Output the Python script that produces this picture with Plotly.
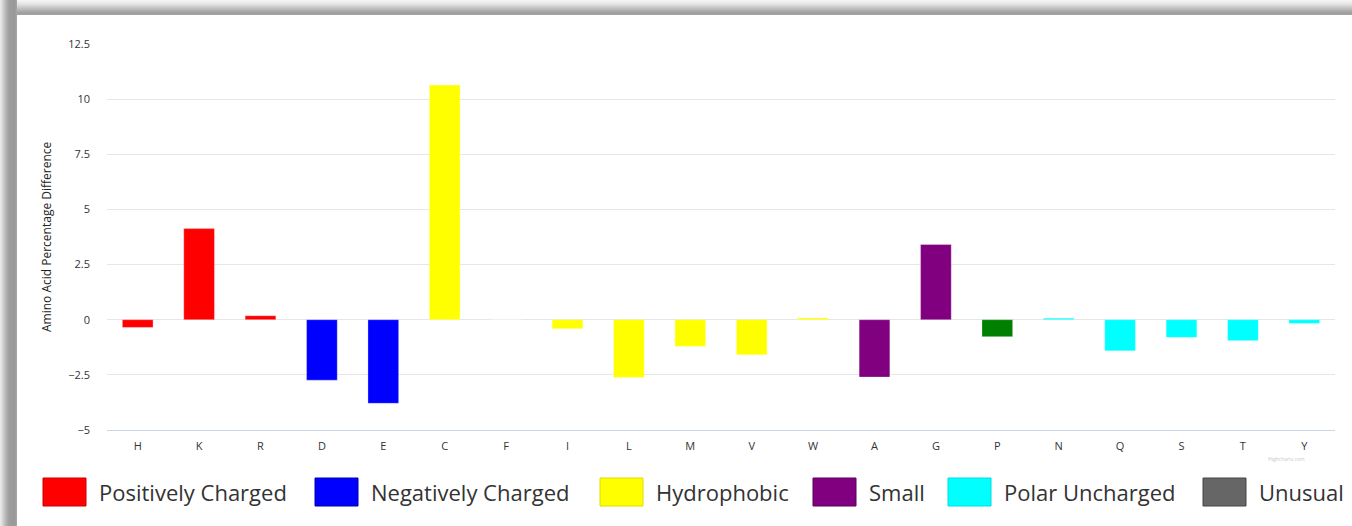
import plotly.graph_objects as go

# ---- data ----
categories = ["H", "K", "R", "D", "E", "C", "F", "I", "L", "M",
              "V", "W", "A", "G", "P", "N", "Q", "S", "T", "Y"]
values = [-0.35, 4.13, 0.18, -2.74, -3.79, 10.64, 0.0, -0.41, -2.62, -1.21,
          -1.59, 0.08, -2.60, 3.41, -0.77, 0.07, -1.41, -0.80, -0.95, -0.17]
groups = (["Positively Charged"] * 3 + ["Negatively Charged"] * 2 +
          ["Hydrophobic"] * 7 + ["Small"] * 2 + ["Proline"] +
          ["Polar Uncharged"] * 5)

group_colors = {
    "Positively Charged": "#FF0000",
    "Negatively Charged": "#0000FF",
    "Hydrophobic": "#FFFF00",
    "Small": "#800080",
    "Proline": "#008000",
    "Polar Uncharged": "#00FFFF",
    "Unusual": "#666666",
}
legend_names = ["Positively Charged", "Negatively Charged", "Hydrophobic",
                "Small", "Polar Uncharged", "Unusual"]
y_ticks = [-5, -2.5, 0, 2.5, 5, 7.5, 10, 12.5]
y_tick_labels = ["−5", "−2.5", "0", "2.5", "5", "7.5", "10", "12.5"]

# ---- geometry helpers (pixels -> paper) ----
W, H = 1352, 526
L, R, T, B = 107, 1335, 44, 430


def px(x):
    return (x - L) / (R - L)


def py(y):
    return (B - y) / (B - T)


fig = go.Figure()
order = ["Positively Charged", "Negatively Charged", "Hydrophobic", "Small",
         "Proline", "Polar Uncharged"]
for g in order:
    xs = [c for c, gg in zip(categories, groups) if gg == g]
    ys = [v for v, gg in zip(values, groups) if gg == g]
    fig.add_trace(go.Bar(
        x=xs, y=ys, name=g, showlegend=False,
        marker=dict(color=group_colors[g],
                    line=dict(color="rgba(255,255,255,0.6)", width=0.5)),
    ))

shapes = []
annotations = []

# card shadow frame
left_cols = ["#e8e8e8", "#e0e0e0", "#d6d6d6", "#cccccc", "#c2c2c2", "#b8b8b8",
             "#b0b0b0", "#a8a8a8", "#a2a2a2", "#9e9e9e", "#9c9c9c", "#9b9b9b",
             "#9a9a9a", "#9a9a9a", "#9a9a9a", "#9c9c9c", "#a4a4a4"]
for i, c in enumerate(left_cols):
    shapes.append(dict(type="rect", xref="paper", yref="paper",
                       x0=px(i), x1=px(i + 1), y0=py(H), y1=py(0),
                       fillcolor=c, line=dict(width=0), layer="above"))
top_cols = ["#f4f4f4", "#f0f0f0", "#ececec", "#e6e6e6", "#e0e0e0", "#d8d8d8",
            "#d0d0d0", "#c8c8c8", "#c0c0c0", "#b8b8b8", "#b0b0b0", "#a8a8a8",
            "#a2a2a2", "#9e9e9e", "#a4a4a4"]
for i, c in enumerate(top_cols):
    shapes.append(dict(type="rect", xref="paper", yref="paper",
                       x0=px(len(left_cols)), x1=px(W), y0=py(i + 1), y1=py(i),
                       fillcolor=c, line=dict(width=0), layer="above"))

# manual legend
swatch_x = [43, 315, 600, 813, 948, 1203]
border_cols = {"Positively Charged": "#cc0000", "Negatively Charged": "#0000aa",
               "Hydrophobic": "#dddd00", "Small": "#5a005a",
               "Polar Uncharged": "#00dddd", "Unusual": "#444444"}
for name, sx in zip(legend_names, swatch_x):
    shapes.append(dict(type="rect", xref="paper", yref="paper",
                       x0=px(sx), x1=px(sx + 43), y0=py(506), y1=py(478),
                       fillcolor=group_colors[name],
                       line=dict(color=border_cols[name], width=1)))
    annotations.append(dict(xref="paper", yref="paper", x=px(sx + 54), y=py(492),
                            xanchor="left", yanchor="middle", showarrow=False,
                            text=name,
                            font=dict(family="Open Sans", size=22, color="#333333")))

# y-axis title
annotations.append(dict(xref="paper", yref="paper", x=px(46), y=py(237),
                        xanchor="center", yanchor="middle", showarrow=False,
                        textangle=-90, text="Amino Acid Percentage Difference",
                        font=dict(family="Open Sans", size=12, color="#222222")))
# faint credits
annotations.append(dict(xref="paper", yref="paper", x=px(1286), y=py(459),
                        xanchor="center", yanchor="middle", showarrow=False,
                        text="Highcharts.com",
                        font=dict(family="Open Sans", size=5, color="#c8c8c8")))

fig.update_layout(
    width=W, height=H,
    margin=dict(l=L, r=W - R, t=T, b=H - B, pad=0),
    paper_bgcolor="white", plot_bgcolor="white",
    barmode="overlay", bargap=0.5,
    showlegend=False,
    shapes=shapes, annotations=annotations,
    xaxis=dict(type="category", categoryorder="array", categoryarray=categories,
               showgrid=False, zeroline=False, showline=True,
               linecolor="#ccd6eb", linewidth=1, ticks="",
               ticklabelstandoff=6,
               tickfont=dict(family="Open Sans", size=11, color="#333333")),
    yaxis=dict(range=[-5, 12.5], tickvals=y_ticks, ticktext=y_tick_labels,
               showgrid=True, gridcolor="#e6e6e6", gridwidth=1,
               zeroline=False, showline=False, ticks="",
               ticklabelstandoff=16,
               tickfont=dict(family="Open Sans", size=11, color="#333333")),
)

fig.write_html(
    "out.html",
    config={"displayModeBar": False},
    post_script="document.body.style.margin='0';document.body.style.overflow='hidden';",
)
